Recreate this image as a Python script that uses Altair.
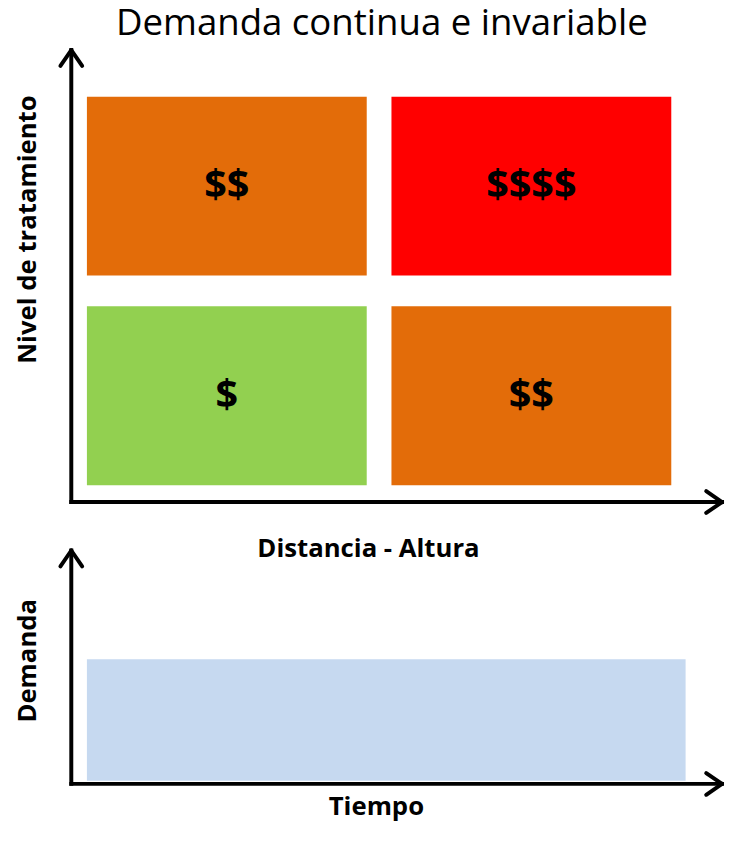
import altair as alt
import pandas as pd

# --- diagram data (abstract units 0..100 on each panel) ---
cell_x0 = [2.4, 49.2, 2.4, 49.2]
cell_x1 = [45.4, 92.2, 45.4, 92.2]
cell_y0 = [50.1, 50.1, 3.7, 3.7]
cell_y1 = [89.7, 89.7, 43.3, 43.3]
cell_cost = ["$$", "$$$$", "$", "$$"]
cell_color = ["#E36C09", "#FF0000", "#92D050", "#E36C09"]

demand_x0 = [2.4]
demand_x1 = [94.4]
demand_y0 = [1.3]
demand_y1 = [53.4]
demand_color = ["#C6D9F0"]

# axis lines (from the origin to the arrow tips)
axis_x0 = [0, 0]
axis_y0 = [0, 0]
axis_x1 = [100, 0]
axis_y1 = [0, 100]

# arrowhead arms (tip -> arm end), top panel and bottom panel
top_arm_x0 = [100, 100, 0, 0]
top_arm_y0 = [0, 0, 100, 100]
top_arm_x1 = [97.57, 97.57, -1.67, 1.67]
top_arm_y1 = [2.41, -2.41, 96.5, 96.5]

bot_arm_x0 = [100, 100, 0, 0]
bot_arm_y0 = [0, 0, 100, 100]
bot_arm_x1 = [97.57, 97.57, -1.67, 1.67]
bot_arm_y1 = [4.66, -4.66, 93.22, 93.22]

FONT = "Open Sans"

cells = pd.DataFrame({"x0": cell_x0, "x1": cell_x1, "y0": cell_y0, "y1": cell_y1,
                      "cost": cell_cost, "color": cell_color})
demand = pd.DataFrame({"x0": demand_x0, "x1": demand_x1, "y0": demand_y0,
                       "y1": demand_y1, "color": demand_color})
axes_df = pd.DataFrame({"x0": axis_x0, "y0": axis_y0, "x1": axis_x1, "y1": axis_y1})
top_arms = pd.DataFrame({"x0": top_arm_x0, "y0": top_arm_y0, "x1": top_arm_x1, "y1": top_arm_y1})
bot_arms = pd.DataFrame({"x0": bot_arm_x0, "y0": bot_arm_y0, "x1": bot_arm_x1, "y1": bot_arm_y1})

xscale = alt.Scale(domain=[0, 100], nice=False, zero=True)
yscale = alt.Scale(domain=[0, 100], nice=False, zero=True)


def ax(title, tx, ty, angle=0):
    return alt.Axis(domain=False, ticks=False, labels=False, grid=False, title=title,
                    titleX=tx, titleY=ty, titleAngle=angle, titleFont=FONT,
                    titleFontSize=26, titleFontWeight="bold", titleColor="black",
                    titleAlign="center", titleBaseline="middle")


def arrows(arms):
    rules = alt.Chart(axes_df).mark_rule(color="black", strokeWidth=4, strokeCap="square").encode(
        x=alt.X("x0:Q", scale=xscale), x2="x1:Q",
        y=alt.Y("y0:Q", scale=yscale), y2="y1:Q")
    heads = alt.Chart(arms).mark_rule(color="black", strokeWidth=4, strokeCap="round").encode(
        x=alt.X("x0:Q", scale=xscale), x2="x1:Q",
        y=alt.Y("y0:Q", scale=yscale), y2="y1:Q")
    return rules + heads


top_rects = alt.Chart(cells).mark_rect().encode(
    x=alt.X("x0:Q", scale=xscale, axis=ax("Distancia - Altura", 300, 47)),
    x2="x1:Q",
    y=alt.Y("y0:Q", scale=yscale, axis=ax("Nivel de tratamiento", -44, 181, 270)),
    y2="y1:Q",
    color=alt.Color("color:N", scale=None))
top_text = alt.Chart(cells).transform_calculate(
    cx="(datum.x0 + datum.x1) / 2", cy="(datum.y0 + datum.y1) / 2"
).mark_text(font=FONT, fontSize=40, fontWeight="bold", color="black").encode(
    x=alt.X("cx:Q", scale=xscale), y=alt.Y("cy:Q", scale=yscale), text="cost:N")

top = alt.layer(top_rects, top_text, arrows(top_arms)).properties(
    width=658, height=457,
    title=alt.TitleParams("Demanda continua e invariable", font=FONT, fontSize=37,
                          fontWeight="normal", color="black", anchor="middle",
                          frame="group", dx=-15, offset=4))

bot_rect = alt.Chart(demand).mark_rect().encode(
    x=alt.X("x0:Q", scale=xscale, axis=ax("Tiempo", 308, 23)),
    x2="x1:Q",
    y=alt.Y("y0:Q", scale=yscale, axis=ax("Demanda", -44, 111, 270)),
    y2="y1:Q",
    color=alt.Color("color:N", scale=None))

bottom = alt.layer(bot_rect, arrows(bot_arms)).properties(width=658, height=236)

chart = alt.vconcat(top, bottom, spacing=49, bounds="flush").properties(
    padding={"left": 6, "top": -7, "right": 0, "bottom": 0}
).configure_view(stroke=None)

chart.save("out.html", embed_options={"renderer": "svg", "actions": False})
